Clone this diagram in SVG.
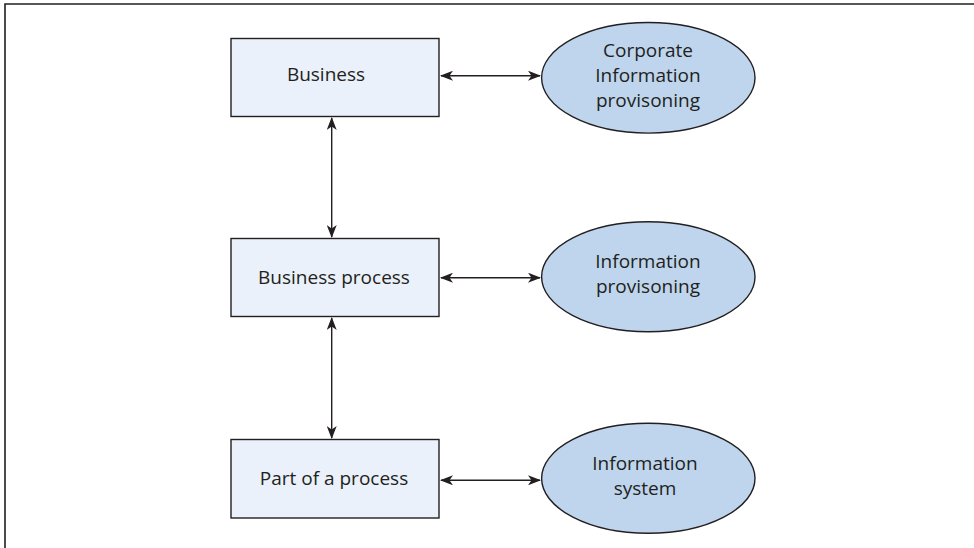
<svg xmlns="http://www.w3.org/2000/svg" width="974" height="548" viewBox="0 0 974 548">
<style>
.box{fill:#eaf1fa;stroke:#231f20;stroke-width:1.4}
.ell{fill:#bed5ed;stroke:#231f20;stroke-width:1.4}
.lbl{font-family:"Open Sans","Noto Sans",sans-serif;font-size:19px;fill:#231f20;text-anchor:middle}
.con{stroke:#231f20;stroke-width:1.4;fill:none;marker-start:url(#ah);marker-end:url(#ah)}
</style>
<defs>
<marker id="ah" viewBox="0 0 13 10" refX="12" refY="5" markerWidth="13" markerHeight="10" markerUnits="userSpaceOnUse" orient="auto-start-reverse">
<path d="M0,0 L13,5 L0,10 L3.5,5 Z" fill="#231f20"/>
</marker>
</defs>
<rect width="974" height="548" fill="#ffffff"/>
<path d="M5,548 V4 H974" fill="none" stroke="#231f20" stroke-width="1.6"/>
<g id="connectors">
<line class="con" x1="441" y1="75.7" x2="540" y2="75.7"/>
<line class="con" x1="441" y1="277.7" x2="540" y2="277.7"/>
<line class="con" x1="441" y1="480.3" x2="540" y2="480.3"/>
<line class="con" x1="331.7" y1="118" x2="331.7" y2="237"/>
<line class="con" x1="331.7" y1="318" x2="331.7" y2="438"/>
</g>
<g id="business">
<rect class="box" x="231" y="38.5" width="208" height="78"/>
<text class="lbl" x="326" y="81">Business</text>
</g>
<g id="business-process">
<rect class="box" x="231" y="238.5" width="208" height="78"/>
<text class="lbl" x="334" y="284">Business process</text>
</g>
<g id="part-of-process">
<rect class="box" x="231" y="439.5" width="208" height="78.5"/>
<text class="lbl" x="334" y="485">Part of a process</text>
</g>
<g id="corporate-info">
<ellipse class="ell" cx="648.3" cy="77.8" rx="106.7" ry="55.3"/>
<text class="lbl" x="648" y="57">Corporate</text>
<text class="lbl" x="648" y="82">Information</text>
<text class="lbl" x="648" y="107">provisoning</text>
</g>
<g id="info-provisioning">
<ellipse class="ell" cx="648.3" cy="276.7" rx="106.7" ry="55"/>
<text class="lbl" x="648" y="268">Information</text>
<text class="lbl" x="648" y="293">provisoning</text>
</g>
<g id="info-system">
<ellipse class="ell" cx="648.3" cy="478.3" rx="106.7" ry="55"/>
<text class="lbl" x="645" y="470">Information</text>
<text class="lbl" x="645" y="495">system</text>
</g>
</svg>
